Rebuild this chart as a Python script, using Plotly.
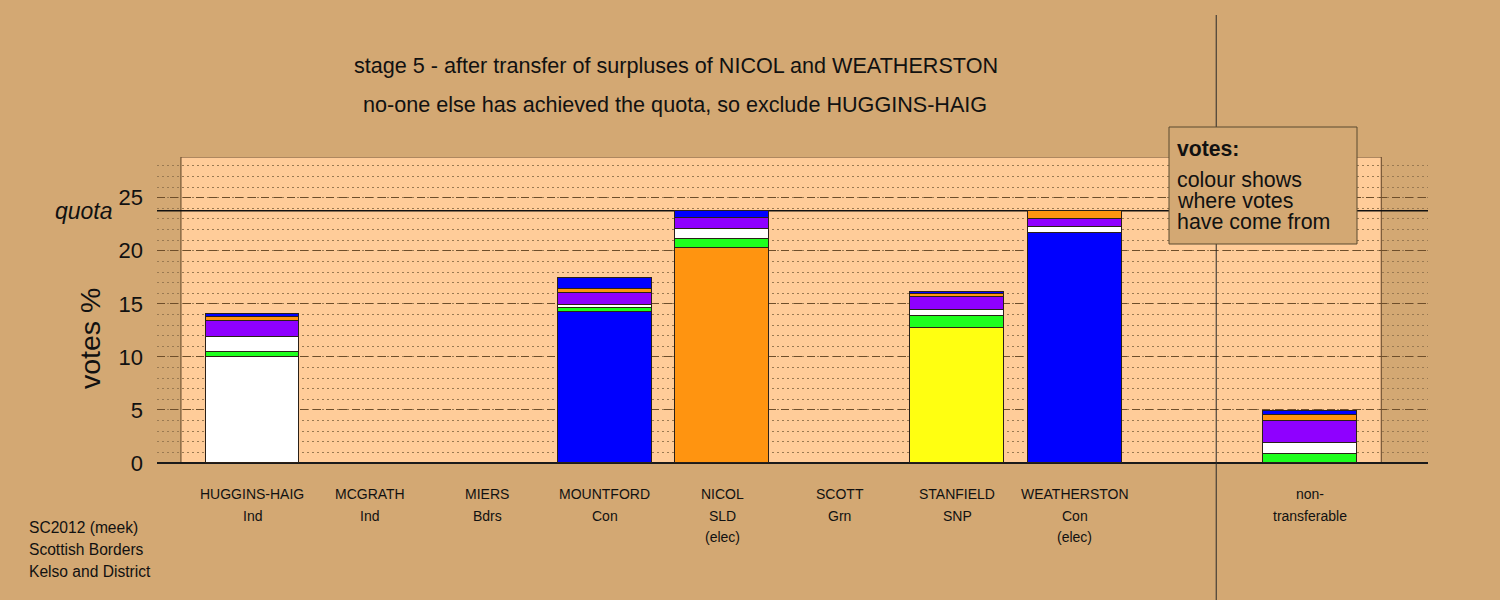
import plotly.graph_objects as go

# ---------------- data ----------------
positions = [0, 1, 2, 3, 4, 5, 6, 7, 9]
names = ["HUGGINS-HAIG", "MCGRATH", "MIERS", "MOUNTFORD", "NICOL", "SCOTT",
         "STANFIELD", "WEATHERSTON", "non-"]
parties = ["Ind", "Ind", "Bdrs", "Con", "SLD", "Grn", "SNP", "Con", "transferable"]
notes = ["", "", "", "", "(elec)", "", "", "(elec)", ""]

own_votes = [10.0, None, None, 14.27, 20.25, None, 12.7, 21.67, None]
own_colours = ["#FFFFFF", "#FFFFFF", "#8F00FF", "#0000FF", "#FF9410", "#1EFF1E",
               "#FFFF11", "#0000FF", "#FFFFFF"]
from_scott = [0.45, None, None, 0.32, 0.85, None, 1.17, None, 0.85]
from_mcgrath = [1.38, None, None, 0.31, 1.0, None, 0.56, 0.55, 1.07]
from_miers = [1.6, None, None, 1.1, 0.98, None, 1.26, 0.82, 2.04]
from_nicol = [0.3, None, None, 0.38, None, None, 0.25, 0.75, 0.57]
from_weatherston = [0.28, None, None, 1.04, 0.69, None, 0.16, None, 0.37]

transfer_series = [
    ("from SCOTT", from_scott, "#1EFF1E"),
    ("from MCGRATH", from_mcgrath, "#FFFFFF"),
    ("from MIERS", from_miers, "#8F00FF"),
    ("from NICOL", from_nicol, "#FF9410"),
    ("from WEATHERSTON", from_weatherston, "#0000FF"),
]

quota = 23.78
title1 = "stage 5 - after transfer of surpluses of NICOL and WEATHERSTON"
title2 = "no-one else has achieved the quota, so exclude HUGGINS-HAIG"
footer = ["SC2012 (meek)", "Scottish Borders", "Kelso and District"]
y_ticks = [0, 5, 10, 15, 20, 25]

# ---------------- layout constants ----------------
BG = "#D3A873"
PANEL = "#FFCC99"
FONT = "Liberation Sans, Arial, sans-serif"
X_RANGE = [-0.813, 10.008]
Y_RANGE = [0, 28.84]
L, R, T, B = 157, 72, 157, 137
PW, PH = 1500 - L - R, 600 - T - B


def px_x(p):
    return (p - L) / PW


def px_y(p):
    return (600 - B - p) / PH


fig = go.Figure()

fig.add_trace(go.Bar(x=positions, y=own_votes, width=0.8,
                     marker=dict(color=own_colours, line=dict(color="#2a2018", width=1)),
                     name="own", hoverinfo="y"))
for label, vals, col in transfer_series:
    fig.add_trace(go.Bar(x=positions, y=vals, width=0.8,
                         marker=dict(color=col, line=dict(color="#2a2018", width=1)),
                         name=label, hoverinfo="y"))

shapes = [
    # panel
    dict(type="rect", xref="x", yref="y", x0=-0.609, x1=9.61, y0=0, y1=Y_RANGE[1],
         fillcolor=PANEL, line=dict(color="#5e4226", width=1), layer="below"),
    # quota line
    dict(type="line", xref="x", yref="y", x0=X_RANGE[0], x1=X_RANGE[1], y0=quota, y1=quota,
         line=dict(color="#111111", width=1.5), layer="below"),
    # vertical separator
    dict(type="line", xref="x", yref="paper", x0=8.205, x1=8.205,
         y0=px_y(600), y1=px_y(15), line=dict(color="#2a2a2a", width=1), layer="above"),
    # legend box
    dict(type="rect", xref="paper", yref="paper", x0=px_x(1169), x1=px_x(1357),
         y0=px_y(244), y1=px_y(127), fillcolor=BG,
         line=dict(color="#5a4a30", width=1), layer="above"),
]

ann = []


def add_text(text, x, y, size, xanchor="center", xref="paper", yref="paper", **kw):
    ann.append(dict(text=text, x=x, y=y, xref=xref, yref=yref, xanchor=xanchor,
                    yanchor="middle", showarrow=False,
                    font=dict(family=FONT, size=size, color="#111111"), **kw))


add_text(title1, px_x(676), px_y(66), 21.6)
add_text(title2, px_x(675), px_y(105), 21.6)

for pos, n, p, nt in zip(positions, names, parties, notes):
    add_text(n, pos, px_y(494), 14, xref="x")
    add_text(p, pos, px_y(516), 14, xref="x")
    if nt:
        add_text(nt, pos, px_y(537), 14, xref="x")

for i, line in enumerate(footer):
    add_text(line, px_x(27), px_y(527 + 22 * i), 15.6, xanchor="left")

add_text("<i>quota</i>", px_x(115), quota, 23, xanchor="right", yref="y")
add_text("votes %", px_x(90), px_y(339), 28.5, textangle=-90)

add_text("<b>votes:</b>", px_x(1175), px_y(148), 21.2, xanchor="left")
add_text("colour shows", px_x(1175), px_y(180), 21.4, xanchor="left")
add_text("where votes", px_x(1175), px_y(201), 21.4, xanchor="left")
add_text("have come from", px_x(1175), px_y(222), 21.4, xanchor="left")

fig.update_layout(
    width=1500, height=600,
    margin=dict(l=L, r=R, t=T, b=B, pad=0),
    paper_bgcolor=BG, plot_bgcolor="rgba(0,0,0,0)",
    barmode="stack", bargap=0, showlegend=False,
    font=dict(family=FONT, color="#111111"),
    shapes=shapes, annotations=ann,
    xaxis=dict(range=X_RANGE, showgrid=False, zeroline=False, showticklabels=False,
               ticks="", showline=False, fixedrange=True),
    yaxis=dict(range=Y_RANGE, tickvals=y_ticks, ticks="", ticklabelstandoff=13,
               tickfont=dict(family=FONT, size=22, color="#111111"),
               showgrid=True, gridcolor="#6e4e2a", gridwidth=1, griddash="8px,5px",
               minor=dict(dtick=1, showgrid=True, gridcolor="#9a7a52", gridwidth=1,
                          griddash="2px,3px"),
               zeroline=True, zerolinecolor="#1a1a1a", zerolinewidth=1.5,
               showline=False, fixedrange=True),
)

fig.write_html("out.html", config={"displayModeBar": False},
               post_script="document.body.style.margin='0px';"
               "document.body.style.overflow='hidden';")
